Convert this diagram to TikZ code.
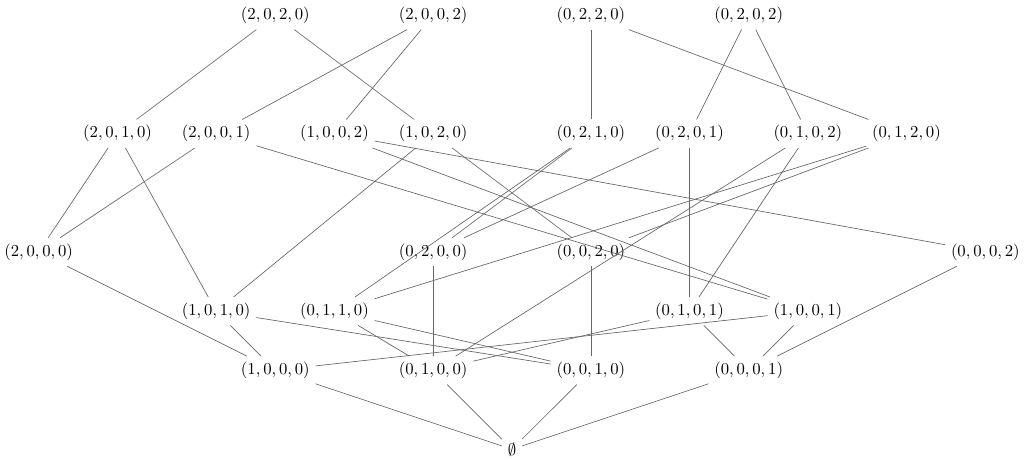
\documentclass[tikz,border=0pt]{standalone}
\usepackage{amsmath}
\usepackage{amssymb}
\usepackage{tikz}
\usetikzlibrary{graphs}

\begin{document}
\begin{tikzpicture}[x=0.83cm, y=0.83cm,
        graphs/every graph/.style={edges={draw=black!60}}]
        \useasboundingbox (-12.98, -0.27) rectangle (12.98, 11.39);

        \node (v2020) at (-6, 11)    {$(2,0,2,0)$};
        \node (v2002) at (-2, 11)    {$(2,0,0,2)$};
        \node (v0220) at (2, 11)     {$(0,2,2,0)$};
        \node (v0202) at (6, 11)     {$(0,2,0,2)$};

        \node (v2010) at (-10, 8)    {$(2,0,1,0)$};
        \node (v2001) at (-7.5, 8)   {$(2,0,0,1)$};
        \node (v1002) at (-4.5, 8)   {$(1,0,0,2)$};
        \node (v1020) at (-2, 8)     {$(1,0,2,0)$};
        \node (v0210) at (2, 8)      {$(0,2,1,0)$};
        \node (v0201) at (4.5, 8)    {$(0,2,0,1)$};
        \node (v0102) at (7.5, 8)    {$(0,1,0,2)$};
        \node (v0120) at (10, 8)     {$(0,1,2,0)$};

        \node (v2000) at (-12, 5)    {$(2,0,0,0)$};
        \node (v0200) at (-2, 5)     {$(0,2,0,0)$};
        \node (v0020) at (2, 5)      {$(0,0,2,0)$};
        \node (v0002) at (12, 5)     {$(0,0,0,2)$};

        \node (v1010) at (-7.5, 3.5) {$(1,0,1,0)$};
        \node (v0110) at (-4.5, 3.5) {$(0,1,1,0)$};
        \node (v0101) at (4.5, 3.5)  {$(0,1,0,1)$};
        \node (v1001) at (7.5, 3.5)  {$(1,0,0,1)$};

        \node (v1000) at (-6, 2)     {$(1,0,0,0)$};
        \node (v0100) at (-2, 2)     {$(0,1,0,0)$};
        \node (v0010) at (2, 2)      {$(0,0,1,0)$};
        \node (v0001) at (6, 2)      {$(0,0,0,1)$};

        \node (e) at (0, 0)          {$\emptyset$};

        \graph {(v2020) -- (v2010)};
        \graph {(v2020) -- (v1020)};
        \graph {(v2002) -- (v2001)};
        \graph {(v2002) -- (v1002)};
        \graph {(v0220) -- (v0210)};
        \graph {(v0220) -- (v0120)};
        \graph {(v0202) -- (v0201)};
        \graph {(v0202) -- (v0102)};

        \graph {(v2010) -- (v2000)};
        \graph {(v2010) -- (v1010)};
        \graph {(v2001) -- (v2000)};
        \graph {(v2001) -- (v1001)};
        \graph {(v1002) -- (v0002)};
        \graph {(v1002) -- (v1001)};
        \graph {(v1020) -- (v1010)};
        \graph {(v1020) -- (v0020)};
        \graph {(v0210) -- (v0200)};
        \graph {(v0210) -- (v0110)};
        \graph {(v0201) -- (v0200)};
        \graph {(v0201) -- (v0101)};
        \graph {(v0102) -- (v0101)};
        \graph {(v0102) -- (v0100)};
        \graph {(v0120) -- (v0110)};
        \graph {(v0120) -- (v0020)};

        \graph {(v2000) -- (v1000)};
        \graph {(v0200) -- (v0100)};
        \graph {(v0020) -- (v0010)};
        \graph {(v0002) -- (v0001)};

        \graph {(v1010) -- (v1000)};
        \graph {(v1010) -- (v0010)};
        \graph {(v0110) -- (v0100)};
        \graph {(v0110) -- (v0010)};
        \graph {(v0101) -- (v0100)};
        \graph {(v0101) -- (v0001)};
        \graph {(v1001) -- (v1000)};
        \graph {(v1001) -- (v0001)};

        \graph {(v1000) -- (e)};
        \graph {(v0100) -- (e)};
        \graph {(v0010) -- (e)};
        \graph {(v0001) -- (e)};
    \end{tikzpicture}
\end{document}
